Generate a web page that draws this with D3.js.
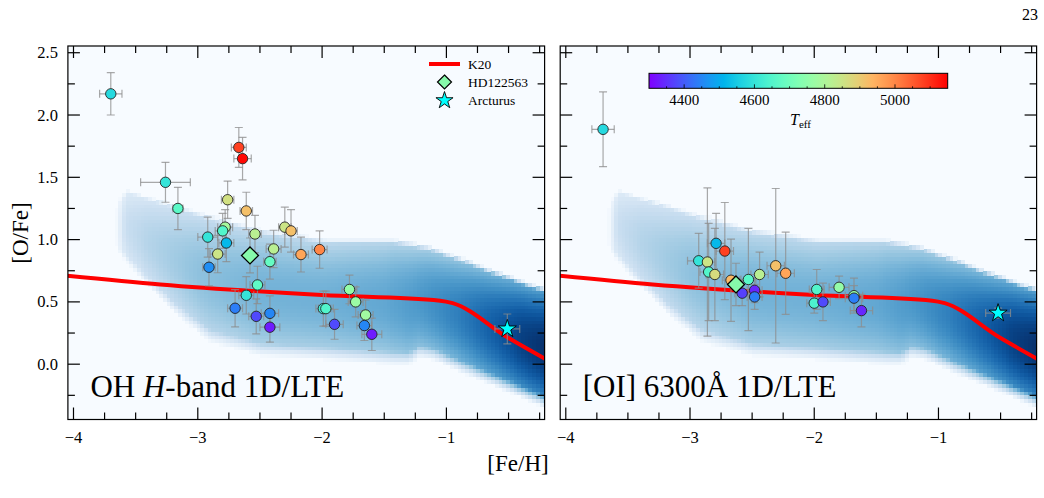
<!DOCTYPE html>
<html><head><meta charset="utf-8">
<script src="https://cdn.jsdelivr.net/npm/d3@7"></script>
<style>body{margin:0;background:#fff;} svg{display:block;font-family:'Liberation Serif','Times New Roman',serif;}</style>
</head><body><svg id="c" width="1044" height="498"></svg>
<script>
// ---------------- data ----------------
const xTicks = [-4, -3, -2, -1];
const yTicks = [0, 0.5, 1.0, 1.5, 2.0, 2.5];
const cbTicks = [4400, 4600, 4800, 5000];

// OH H-band 1D/LTE
const ohFeH = [-3.70,-3.26,-3.16,-2.67,-2.64,-2.76,-2.61,-2.54,-2.30,-2.25,-2.78,-2.80,-2.92,-2.77,-2.84,-2.91,-2.39,-2.42,-2.17,-2.02,-2.52,-2.61,-2.70,-2.53,-2.42,-2.42,-1.78,-1.73,-1.99,-1.97,-1.90,-1.65,-1.66,-1.60];
const ohOFe = [2.17,1.46,1.25,1.74,1.65,1.32,1.23,1.045,1.10,1.07,1.10,1.07,1.02,0.973,0.884,0.778,0.925,0.823,0.88,0.92,0.636,0.553,0.449,0.384,0.408,0.297,0.60,0.50,0.446,0.446,0.32,0.395,0.31,0.24];
const ohXErr = [0.09,0.20,0.04,0.06,0.07,0.05,0.05,0.05,0.05,0.05,0.06,0.06,0.08,0.06,0.06,0.05,0.06,0.05,0.06,0.06,0.06,0.06,0.06,0.06,0.07,0.08,0.06,0.06,0.06,0.06,0.07,0.06,0.06,0.08];
const ohYErr = [0.17,0.16,0.17,0.16,0.17,0.15,0.15,0.15,0.16,0.17,0.14,0.14,0.16,0.15,0.15,0.15,0.15,0.14,0.14,0.15,0.15,0.15,0.15,0.14,0.14,0.12,0.115,0.12,0.14,0.14,0.12,0.12,0.12,0.13];
const ohTeff = [4575,4600,4665,5080,5140,4860,4920,4820,4850,4920,4790,4650,4600,4520,4850,4460,4820,4680,4960,5000,4670,4600,4440,4380,4450,4330,4760,4770,4620,4650,4380,4780,4450,4330];

// [OI] 6300 1D/LTE
const oiFeH = [-3.70,-2.79,-2.72,-2.93,-2.86,-2.85,-2.80,-2.67,-2.58,-2.53,-2.48,-2.48,-2.44,-2.31,-2.23,-1.98,-2.00,-1.93,-1.80,-1.68,-1.68,-1.62];
const oiOFe = [1.885,0.97,0.908,0.83,0.82,0.74,0.72,0.674,0.57,0.68,0.593,0.54,0.72,0.79,0.73,0.60,0.49,0.50,0.617,0.55,0.53,0.43];
const oiXErr = [0.09,0.07,0.07,0.09,0.06,0.07,0.07,0.07,0.06,0.06,0.06,0.06,0.07,0.07,0.07,0.06,0.06,0.06,0.08,0.07,0.07,0.09];
const oiYErr = [0.30,0.24,0.39,0.22,0.595,0.39,0.37,0.33,0.10,0.41,0.10,0.10,0.18,0.62,0.33,0.16,0.08,0.15,0.09,0.14,0.10,0.13];
const oiTeff = [4575,4520,5080,4600,4850,4650,4870,4930,4370,4660,4340,4440,4820,4920,4960,4650,4640,4380,4760,4760,4440,4340];

// HD122563 (OH, OI) and Arcturus (OH, OI)
const hdFeH = [-2.58, -2.63];
const hdOFe = [0.873, 0.64];
const hdYErr = [0.14, 0.17];
const arcFeH = [-0.51, -0.52];
const arcOFe = [0.283, 0.41];
const arcXErr = [0.10, 0.10];
const arcYErr = [0.12, 0.04];

// K20 model
const k20FeH = [-4.05, -3.3, -2.0, -1.05, -0.95, -0.5, -0.2];
const k20OFe = [0.71, 0.64, 0.555, 0.51, 0.49, 0.21, 0.04];

// background density band (top/bottom edges and peak level)
const bandTopX = [-3.64,-3.57,-3.30,-2.90,-2.49,-1.96,-1.42,-1.15,-0.88,-0.61,-0.34,-0.18];
const bandTopV = [1.32,1.40,1.32,1.20,1.09,1.01,1.01,0.956,0.86,0.755,0.66,0.61];
const bandBotX = [-3.64,-3.43,-3.16,-2.90,-2.49,-1.96,-1.42,-1.30,-1.22,-1.10,-0.88,-0.61,-0.23,-0.18];
const bandBotV = [0.89,0.65,0.38,0.17,0.06,0.03,-0.01,-0.01,0.05,0.03,-0.07,-0.18,-0.34,-0.36];
const bandPeakX = [-3.64,-3.4,-3.0,-2.5,-2.0,-1.5,-1.2,-0.9,-0.6,-0.4,-0.2];
const bandPeakV = [0.2,0.3,0.41,0.48,0.49,0.53,0.6,0.7,0.84,0.94,1.0];

// ---------------- drawing ----------------
const svg = d3.select('#c');
const TOP = 46, BOT = 419.5;
const panels = [
  {x0: 67.9, x1: 544.6, feh: ohFeH, ofe: ohOFe, xe: ohXErr, ye: ohYErr, teff: ohTeff, idx: 0},
  {x0: 560.2, x1: 1036.6, feh: oiFeH, ofe: oiOFe, xe: oiXErr, ye: oiYErr, teff: oiTeff, idx: 1}
];
const xDomain = [-4.045, -0.21];
const yDomain = [-0.444, 2.554];

function rainbow(t) {
  t = Math.max(0, Math.min(1, t));
  const r = Math.min(1, Math.abs(2 * t - 0.5)), g = Math.sin(Math.PI * t), b = Math.cos(Math.PI * t / 2);
  return d3.rgb(r * 255, g * 255, b * 255).formatHex();
}
const tNorm = d3.scaleLinear().domain([4300, 5150]).range([0, 1]).clamp(true);
const tColor = d => rainbow(tNorm(d));

const topS = d3.scaleLinear().domain(bandTopX).range(bandTopV).clamp(true);
const botS = d3.scaleLinear().domain(bandBotX).range(bandBotV).clamp(true);
const peakS = d3.scaleLinear().domain(bandPeakX).range(bandPeakV).clamp(true);

const fmtX = d => (d < 0 ? '\u2212' : '') + Math.abs(d);

function starPath(R) {
  const r = R * 0.382; let p = '';
  for (let i = 0; i < 10; i++) {
    const a = -Math.PI / 2 + i * Math.PI / 5, rr = i % 2 ? r : R;
    p += (i ? 'L' : 'M') + (rr * Math.cos(a)).toFixed(2) + ',' + (rr * Math.sin(a)).toFixed(2);
  }
  return p + 'Z';
}
const diamondPath = h => `M0,${-h}L${h},0L0,${h}L${-h},0Z`;

panels.forEach(P => {
  const xs = d3.scaleLinear().domain(xDomain).range([P.x0, P.x1]);
  const ys = d3.scaleLinear().domain(yDomain).range([BOT, TOP]);
  const g = svg.append('g');
  const cid = 'clip' + P.idx;
  svg.append('clipPath').attr('id', cid).append('rect')
    .attr('x', P.x0).attr('y', TOP).attr('width', P.x1 - P.x0).attr('height', BOT - TOP);
  const body = g.append('g').attr('clip-path', `url(#${cid})`);
  body.append('rect').attr('x', P.x0).attr('y', TOP).attr('width', P.x1 - P.x0).attr('height', BOT - TOP)
    .attr('fill', d3.interpolateBlues(0));

  // density band
  const cells = [];
  const dx = 0.03, dy = 0.03;
  for (let x = -3.655; x < -0.15; x += dx) {
    const t = topS(x), b = botS(x), c = (t + b) / 2, h = (t - b) / 2, p = peakS(x);
    for (let v = -0.5; v < 1.5; v += dy) {
      const u = Math.abs(v - c) / h;
      if (u > 1) continue;
      let I = p * (1 - 0.5 * u * u);
      const fw = v > c ? 0.08 : 0.22;
      I *= Math.min(1, (1 - u) / fw);
      I *= Math.max(0, Math.min(1, (x + 3.665) / 0.08));
      if (I < 0.02) continue;
      cells.push({x, v, I});
    }
  }
  body.append('g').selectAll('rect').data(cells).join('rect')
    .attr('x', d => xs(d.x - dx / 2)).attr('y', d => ys(d.v + dy / 2))
    .attr('width', xs(dx) - xs(0) + 0.6).attr('height', ys(0) - ys(dy) + 0.6)
    .attr('fill', d => d3.interpolateBlues(d.I)).attr('shape-rendering', 'crispEdges');

  // K20 line
  const line = d3.line().x(d => xs(d[0])).y(d => ys(d[1])).curve(d3.curveMonotoneX);
  body.append('path').datum(d3.zip(k20FeH, k20OFe)).attr('d', line)
    .attr('fill', 'none').attr('stroke', '#ff0000').attr('stroke-width', 4);

  // error bars
  const eb = body.append('g').attr('stroke', '#8c8c8c').attr('stroke-opacity', 0.75).attr('stroke-width', 1.2).attr('fill', 'none');
  const cap = 4;
  function errbar(x, y, xe, ye) {
    const cx = xs(x), cy = ys(y);
    if (xe > 0) {
      eb.append('line').attr('x1', xs(x - xe)).attr('x2', xs(x + xe)).attr('y1', cy).attr('y2', cy);
      eb.append('line').attr('x1', xs(x - xe)).attr('x2', xs(x - xe)).attr('y1', cy - cap).attr('y2', cy + cap);
      eb.append('line').attr('x1', xs(x + xe)).attr('x2', xs(x + xe)).attr('y1', cy - cap).attr('y2', cy + cap);
    }
    if (ye > 0) {
      eb.append('line').attr('x1', cx).attr('x2', cx).attr('y1', ys(y - ye)).attr('y2', ys(y + ye));
      eb.append('line').attr('x1', cx - cap).attr('x2', cx + cap).attr('y1', ys(y - ye)).attr('y2', ys(y - ye));
      eb.append('line').attr('x1', cx - cap).attr('x2', cx + cap).attr('y1', ys(y + ye)).attr('y2', ys(y + ye));
    }
  }
  P.feh.forEach((x, i) => errbar(x, P.ofe[i], P.xe[i], P.ye[i]));
  errbar(hdFeH[P.idx], hdOFe[P.idx], 0, hdYErr[P.idx]);
  errbar(arcFeH[P.idx], arcOFe[P.idx], arcXErr[P.idx], arcYErr[P.idx]);

  // points
  const pts = d3.range(P.feh.length);
  body.append('g').selectAll('circle').data(pts).join('circle')
    .attr('cx', i => xs(P.feh[i])).attr('cy', i => ys(P.ofe[i])).attr('r', 5.2)
    .attr('fill', i => tColor(P.teff[i])).attr('stroke', '#222').attr('stroke-width', 0.9);
  body.append('path').attr('d', diamondPath(8.5))
    .attr('transform', `translate(${xs(hdFeH[P.idx])},${ys(hdOFe[P.idx])})`)
    .attr('fill', '#86f9aa').attr('stroke', '#000').attr('stroke-width', 1.3);
  body.append('path').attr('d', starPath(9.5))
    .attr('transform', `translate(${xs(arcFeH[P.idx])},${ys(arcOFe[P.idx])})`)
    .attr('fill', '#00ffff').attr('stroke', '#000').attr('stroke-width', 0.9);

  // axes frame & ticks
  const ax = g.append('g').attr('stroke', '#000').attr('stroke-width', 1.2);
  const xMinor = d3.range(-4, -0.2, 0.25).filter(v => Math.abs(v - Math.round(v)) > 1e-6);
  const yMinor = d3.range(-0.25, 2.56, 0.25).filter(v => Math.abs(v * 2 - Math.round(v * 2)) > 1e-6);
  const MJ = 12, MN = 7;
  xTicks.forEach(v => {
    ax.append('line').attr('x1', xs(v)).attr('x2', xs(v)).attr('y1', BOT).attr('y2', BOT - MJ);
    ax.append('line').attr('x1', xs(v)).attr('x2', xs(v)).attr('y1', TOP).attr('y2', TOP + MJ);
  });
  xMinor.forEach(v => {
    ax.append('line').attr('x1', xs(v)).attr('x2', xs(v)).attr('y1', BOT).attr('y2', BOT - MN);
    ax.append('line').attr('x1', xs(v)).attr('x2', xs(v)).attr('y1', TOP).attr('y2', TOP + MN);
  });
  yTicks.forEach(v => {
    ax.append('line').attr('x1', P.x0).attr('x2', P.x0 + MJ).attr('y1', ys(v)).attr('y2', ys(v));
    ax.append('line').attr('x1', P.x1).attr('x2', P.x1 - MJ).attr('y1', ys(v)).attr('y2', ys(v));
  });
  yMinor.forEach(v => {
    ax.append('line').attr('x1', P.x0).attr('x2', P.x0 + MN).attr('y1', ys(v)).attr('y2', ys(v));
    ax.append('line').attr('x1', P.x1).attr('x2', P.x1 - MN).attr('y1', ys(v)).attr('y2', ys(v));
  });
  ax.append('rect').attr('x', P.x0).attr('y', TOP).attr('width', P.x1 - P.x0).attr('height', BOT - TOP).attr('fill', 'none');

  // tick labels
  xTicks.forEach(v => {
    g.append('text').attr('x', xs(v)).attr('y', 443).attr('text-anchor', 'middle')
      .attr('font-size', 16.5).text(fmtX(v));
  });
  if (P.idx === 0) {
    yTicks.forEach(v => {
      g.append('text').attr('x', P.x0 - 10).attr('y', ys(v) + 5.5).attr('text-anchor', 'end')
        .attr('font-size', 16.5).text(d3.format('.1f')(v));
    });
  }

  // panel label
  const lab = g.append('text').attr('x', P.x0 + 22.5).attr('y', 397).attr('font-size', 31);
  if (P.idx === 0) {
    lab.append('tspan').text('OH ');
    lab.append('tspan').attr('font-style', 'italic').text('H');
    lab.append('tspan').text('-band 1D/LTE');
  } else {
    lab.text('[OI] 6300\u00C5 1D/LTE');
  }
});

// legend (left panel)
const lg = svg.append('g');
lg.append('line').attr('x1', 429).attr('x2', 460).attr('y1', 64).attr('y2', 64).attr('stroke', '#ff0000').attr('stroke-width', 4);
lg.append('path').attr('d', diamondPath(7)).attr('transform', 'translate(444.5,82)')
  .attr('fill', '#86f9aa').attr('stroke', '#000').attr('stroke-width', 1.2);
lg.append('path').attr('d', starPath(9)).attr('transform', 'translate(444.5,100.5)')
  .attr('fill', '#00ffff').attr('stroke', '#000').attr('stroke-width', 0.9);
[['K20', 64], ['HD122563', 82], ['Arcturus', 100]].forEach(([t, y]) => {
  lg.append('text').attr('x', 468).attr('y', y + 4.5).attr('font-size', 13.5).text(t);
});

// colorbar
const cbX = d3.scaleLinear().domain([4300, 5150]).range([649, 947.7]);
const defs = svg.append('defs');
const grad = defs.append('linearGradient').attr('id', 'cbg').attr('x1', '0%').attr('x2', '100%');
d3.range(0, 1.0001, 0.05).forEach(t => grad.append('stop').attr('offset', (t * 100) + '%').attr('stop-color', rainbow(t)));
svg.append('rect').attr('x', 649).attr('y', 73.3).attr('width', 947.7 - 649).attr('height', 15)
  .attr('fill', 'url(#cbg)').attr('stroke', '#000').attr('stroke-width', 1);
d3.range(4350, 5150, 50).forEach(v => {
  const major = cbTicks.includes(v);
  svg.append('line').attr('x1', cbX(v)).attr('x2', cbX(v)).attr('y1', 88.3).attr('y2', 88.3 - (major ? 4 : 2))
    .attr('stroke', '#000').attr('stroke-width', 0.8);
});
cbTicks.forEach(v => {
  svg.append('text').attr('x', cbX(v)).attr('y', 105).attr('text-anchor', 'middle').attr('font-size', 15).text(v);
});
const tl = svg.append('text').attr('x', 790).attr('y', 125).attr('font-size', 16);
tl.append('tspan').attr('font-style', 'italic').text('T');
tl.append('tspan').attr('font-size', 11).attr('dy', 3).text('eff');

// axis labels
svg.append('text').attr('x', 518).attr('y', 471).attr('text-anchor', 'middle').attr('font-size', 23).text('[Fe/H]');
svg.append('text').attr('transform', 'translate(28,233) rotate(-90)').attr('text-anchor', 'middle').attr('font-size', 23).text('[O/Fe]');

// page number
svg.append('text').attr('x', 1038).attr('y', 20).attr('text-anchor', 'end').attr('font-size', 16).text('23');
</script></body></html>
